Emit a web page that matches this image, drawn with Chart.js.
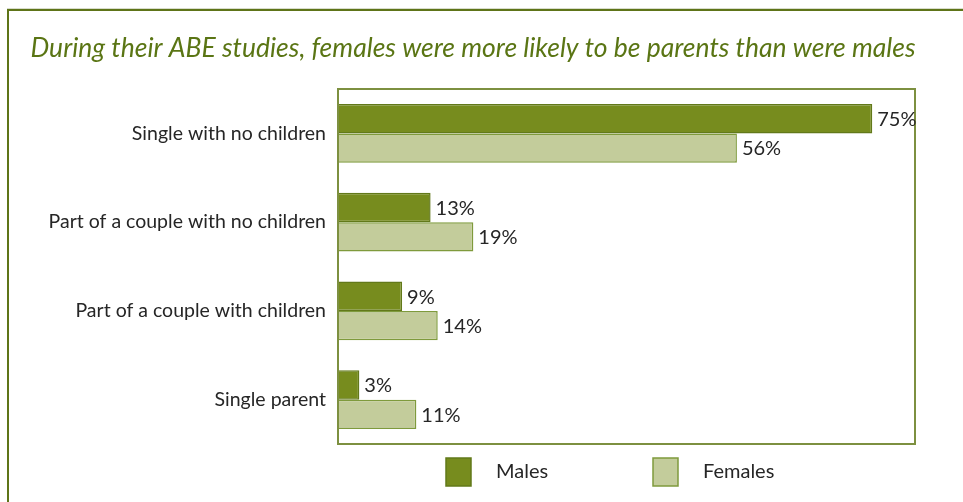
<!DOCTYPE html>
<html lang="en">
<head>
  <meta charset="UTF-8" />
  <title>ABE studies - parental status</title>
  <script src="https://cdn.jsdelivr.net/npm/chart.js"></script>
  <style>
    html, body { margin: 0; padding: 0; background: #fff; }
    #wrap { position: relative; width: 963px; height: 502px; }
  </style>
</head>
<body>
  <div id="wrap"><canvas id="chart" width="963" height="502"></canvas></div>

  <script>
    const categories = ['Single with no children', 'Part of a couple with no children', 'Part of a couple with children', 'Single parent'];
    const seriesNames = ['Males', 'Females'];
    const males = [75, 13, 9, 3];
    const females = [56, 19, 14, 11];
    const titleText = 'During their ABE studies, females were more likely to be parents than were males';

    const olive = '#5e7418';
    const fills = ['#778c1e', '#c3cc9b'];
    const edges = ['#62791a', '#7f9a3c'];

    // frame around the figure, title, plot box, value labels and legend
    const decor = {
      id: 'decor',
      beforeDraw(chart) {
        const ctx = chart.ctx;
        ctx.save();
        ctx.strokeStyle = '#d8dccb';
        ctx.lineWidth = 1;
        ctx.beginPath();
        ctx.moveTo(7, 8.5); ctx.lineTo(963, 8.5);
        ctx.stroke();
        ctx.strokeStyle = olive;
        ctx.lineWidth = 2;
        ctx.beginPath();
        ctx.moveTo(8, 502); ctx.lineTo(8, 10); ctx.lineTo(963, 10);
        ctx.stroke();

        ctx.fillStyle = '#5a7514';
        ctx.font = 'italic 26.5px Lato';
        ctx.textAlign = 'center';
        ctx.textBaseline = 'middle';
        ctx.fillText(titleText, 473, 48);
        ctx.restore();
      },
      afterDraw(chart) {
        const ctx = chart.ctx;
        const a = chart.chartArea;
        ctx.save();
        ctx.strokeStyle = '#7d9040';
        ctx.lineWidth = 2;
        ctx.strokeRect(a.left, a.top, a.right - a.left, a.bottom - a.top);

        ctx.fillStyle = '#262626';
        ctx.font = '20px Lato';
        ctx.textAlign = 'left';
        ctx.textBaseline = 'middle';
        chart.data.datasets.forEach((ds, i) => {
          chart.getDatasetMeta(i).data.forEach((bar, j) => {
            ctx.fillText(ds.data[j] + '%', bar.x + 5, bar.y + 1);
          });
        });

        // legend
        const boxX = [446, 653];
        const textX = [496, 703];
        chart.data.datasets.forEach((ds, i) => {
          ctx.fillStyle = ds.backgroundColor;
          ctx.strokeStyle = ds.borderColor;
          ctx.lineWidth = 1.5;
          ctx.fillRect(boxX[i], 458, 25, 28);
          ctx.strokeRect(boxX[i], 458, 25, 28);
          ctx.fillStyle = '#262626';
          ctx.fillText(ds.label, textX[i], 472);
        });
        ctx.restore();
      }
    };

    new Chart(document.getElementById('chart'), {
      type: 'bar',
      data: {
        labels: categories,
        datasets: [
          { label: seriesNames[0], data: males, backgroundColor: fills[0], borderColor: edges[0], borderWidth: 1.5 },
          { label: seriesNames[1], data: females, backgroundColor: fills[1], borderColor: edges[1], borderWidth: 1.5 }
        ]
      },
      options: {
        indexAxis: 'y',
        responsive: false,
        animation: false,
        categoryPercentage: 0.66,
        barPercentage: 1,
        layout: { padding: { left: 0, right: 48, top: 89, bottom: 58 } },
        plugins: {
          legend: { display: false },
          title: { display: false },
          tooltip: { enabled: false }
        },
        scales: {
          x: {
            min: 0, max: 81,
            display: false,
            grid: { display: false }
          },
          y: {
            grid: { display: false, drawTicks: false },
            border: { display: false },
            ticks: { color: '#262626', font: { family: 'Lato', size: 19.5 }, padding: 12 },
            afterFit(scale) { scale.width = 338; }
          }
        }
      },
      plugins: [decor]
    });
  </script>
</body>
</html>
